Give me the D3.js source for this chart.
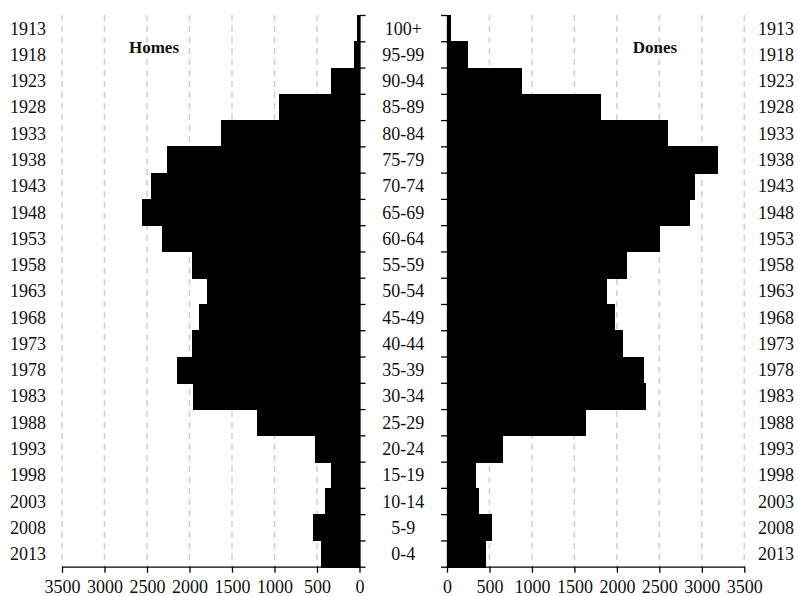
<!DOCTYPE html>
<html>
<head>
<meta charset="utf-8">
<script src="https://cdn.jsdelivr.net/npm/d3@7"></script>
<style>
  body { margin: 0; background: #fff; }
  text { font-family: "Liberation Serif", "DejaVu Serif", serif; fill: #111; }
</style>
</head>
<body>
<div id="chart"></div>
<script>
// ----------------------------------------------------------------------
// data (top row = oldest group)
// ----------------------------------------------------------------------
var ageGroups = ["100+", "95-99", "90-94", "85-89", "80-84", "75-79", "70-74",
  "65-69", "60-64", "55-59", "50-54", "45-49", "40-44", "35-39", "30-34",
  "25-29", "20-24", "15-19", "10-14", "5-9", "0-4"];
var birthYears = ["1913", "1918", "1923", "1928", "1933", "1938", "1943",
  "1948", "1953", "1958", "1963", "1968", "1973", "1978", "1983",
  "1988", "1993", "1998", "2003", "2008", "2013"];
var homes = [30, 65, 339, 947, 1633, 2261, 2449, 2559, 2320, 1971, 1798,
  1888, 1971, 2147, 1955, 1202, 527, 339, 402, 547, 453];
var dones = [43, 247, 886, 1812, 2600, 3192, 2918, 2859, 2506, 2118, 1882,
  1980, 2071, 2314, 2345, 1639, 663, 345, 376, 533, 455];
var xTicks = [0, 500, 1000, 1500, 2000, 2500, 3000, 3500];

// ----------------------------------------------------------------------
// svg + scales
// ----------------------------------------------------------------------
var svgWidth = 798, svgHeight = 596;
var plotTop = 15, plotBottom = 566.7;

var svg = d3.select("#chart").append("svg")
  .attr("width", svgWidth)
  .attr("height", svgHeight);

var xL = d3.scaleLinear().domain([0, 3500]).range([359.5, 62]);
var xR = d3.scaleLinear().domain([0, 3500]).range([447, 744.3]);
var y = d3.scaleBand().domain(ageGroups).range([plotTop, plotBottom]).padding(0);
var yEdge = d3.scaleLinear().domain([0, ageGroups.length]).range([plotTop, plotBottom]);

// ----------------------------------------------------------------------
// gridlines
// ----------------------------------------------------------------------
function grid(x) {
  svg.append("g").selectAll("line")
    .data(xTicks.filter(d => d > 0))
    .join("line")
    .attr("x1", d => x(d)).attr("x2", d => x(d))
    .attr("y1", plotTop).attr("y2", plotBottom)
    .attr("stroke", "#cfcfcf")
    .attr("stroke-width", 1.5)
    .attr("stroke-dasharray", "6,5");
}
grid(xL);
grid(xR);

// ----------------------------------------------------------------------
// bars (slight overlap so no hairline gaps between bands)
// ----------------------------------------------------------------------
svg.append("g").selectAll("rect")
  .data(homes)
  .join("rect")
  .attr("x", d => xL(d))
  .attr("width", d => xL(0) - xL(d))
  .attr("y", (d, i) => y(ageGroups[i]))
  .attr("height", y.bandwidth() + 1)
  .attr("shape-rendering", "crispEdges")
  .attr("fill", "#000");

svg.append("g").selectAll("rect")
  .data(dones)
  .join("rect")
  .attr("x", xR(0))
  .attr("width", d => xR(d) - xR(0))
  .attr("y", (d, i) => y(ageGroups[i]))
  .attr("height", y.bandwidth() + 1)
  .attr("shape-rendering", "crispEdges")
  .attr("fill", "#000");

// ----------------------------------------------------------------------
// axes
// ----------------------------------------------------------------------
var fs = "18px";

function styleAxis(g) {
  g.select(".domain").attr("stroke", "#000").attr("stroke-width", 1.3);
  g.selectAll(".tick line").attr("stroke", "#000").attr("stroke-width", 1.3);
  g.selectAll("text")
    .style("font-family", "'Liberation Serif', serif")
    .style("font-size", fs)
    .attr("fill", "#111");
}

svg.append("g")
  .attr("transform", `translate(0, ${plotBottom})`)
  .call(d3.axisBottom(xL).tickValues(xTicks).tickFormat(d3.format("d"))
    .tickSize(6).tickPadding(8).tickSizeOuter(0))
  .call(styleAxis);

svg.append("g")
  .attr("transform", `translate(0, ${plotBottom})`)
  .call(d3.axisBottom(xR).tickValues(xTicks).tickFormat(d3.format("d"))
    .tickSize(6).tickPadding(8).tickSizeOuter(0))
  .call(styleAxis);

var edges = d3.range(ageGroups.length + 1);

svg.append("g")
  .attr("transform", `translate(${xL(0)}, 0)`)
  .call(d3.axisRight(yEdge).tickValues(edges).tickFormat("").tickSize(6).tickSizeOuter(0))
  .call(styleAxis);

svg.append("g")
  .attr("transform", `translate(${xR(0)}, 0)`)
  .call(d3.axisLeft(yEdge).tickValues(edges).tickFormat("").tickSize(6).tickSizeOuter(0))
  .call(styleAxis);

// ----------------------------------------------------------------------
// labels
// ----------------------------------------------------------------------
var mid = (xL(0) + xR(0)) / 2;

svg.append("g").selectAll("text")
  .data(ageGroups)
  .join("text")
  .attr("x", mid)
  .attr("y", d => y(d) + y.bandwidth() / 2 + 6.5)
  .attr("text-anchor", "middle")
  .style("font-size", fs)
  .text(d => d);

svg.append("g").selectAll("text")
  .data(birthYears)
  .join("text")
  .attr("x", 46)
  .attr("y", (d, i) => y(ageGroups[i]) + y.bandwidth() / 2 + 6.5)
  .attr("text-anchor", "end")
  .style("font-size", fs)
  .text(d => d);

svg.append("g").selectAll("text")
  .data(birthYears)
  .join("text")
  .attr("x", 758)
  .attr("y", (d, i) => y(ageGroups[i]) + y.bandwidth() / 2 + 6.5)
  .attr("text-anchor", "start")
  .style("font-size", fs)
  .text(d => d);

svg.append("text")
  .attr("x", 154).attr("y", 53)
  .attr("text-anchor", "middle")
  .style("font-size", "17px")
  .style("font-weight", "bold")
  .text("Homes");

svg.append("text")
  .attr("x", 655).attr("y", 53)
  .attr("text-anchor", "middle")
  .style("font-size", "17px")
  .style("font-weight", "bold")
  .text("Dones");
</script>
</body>
</html>
